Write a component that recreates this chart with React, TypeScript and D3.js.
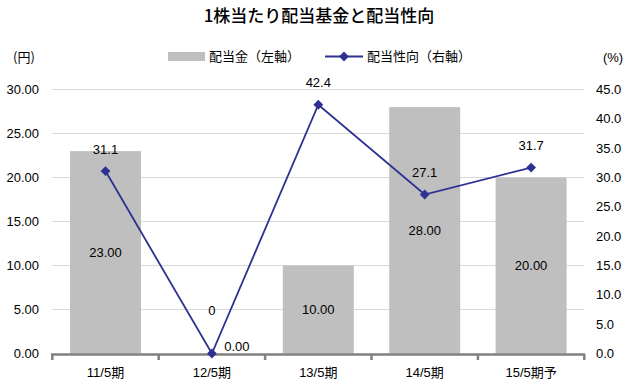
import React from "react";
import * as d3 from "d3";

const categories = ["11/5期", "12/5期", "13/5期", "14/5期", "15/5期予"];
const dividends = [23.0, 0.0, 10.0, 28.0, 20.0];
const payoutRatio = [31.1, 0, 42.4, 27.1, 31.7];
const leftTicks = [0, 5, 10, 15, 20, 25, 30];
const rightTicks = [0, 5, 10, 15, 20, 25, 30, 35, 40, 45];
const title = "1株当たり配当基金と配当性向";
const legendBar = "配当金（左軸）";
const legendLine = "配当性向（右軸）";

const W = 631;
const H = 386;
const NUM_FONT = "'Liberation Sans', Arial, 'Noto Sans CJK JP', sans-serif";
const CJK_FONT = "'Noto Sans CJK JP', sans-serif";
const LINE_COLOR = "#2E3192";
const BAR_COLOR = "#BFBFBF";

export default function App() {
  const x = d3.scaleBand<string>().domain(categories).range([52.3, 584.3]).padding(0);
  const yL = d3.scaleLinear().domain([0, 30]).range([353.5, 89.5]);
  const yR = d3.scaleLinear().domain([0, 45]).range([353.5, 89.5]);
  const bw = x.bandwidth() * 0.667;
  const cx = (c: string) => (x(c) as number) + x.bandwidth() / 2;

  const line = d3
    .line<number>()
    .x((_, i) => cx(categories[i]))
    .y((d) => yR(d));

  const diamond = d3.symbol().type(d3.symbolSquare).size(48)() as string;
  const boundaries = [...categories.map((c) => x(c) as number), x.range()[1]];

  return (
    <svg
      width={W}
      height={H}
      style={{ position: "absolute", left: 0, top: 0, background: "#fff" }}
    >
      <rect x={0} y={0} width={W} height={H} fill="#fff" />
      <text x={319} y={22} textAnchor="middle" fontFamily={CJK_FONT} fontSize={17} fontWeight={500} fill="#000">
        {title}
      </text>

      {/* axis unit labels */}
      <text x={24} y={62} textAnchor="middle" fontFamily={CJK_FONT} fontSize={13} fill="#000">
        (円)
      </text>
      <text x={613} y={62} textAnchor="middle" fontFamily={NUM_FONT} fontSize={13} fill="#000">
        (%)
      </text>

      {/* legend */}
      <rect x={168} y={52} width={37} height={9} fill={BAR_COLOR} />
      <text x={209} y={61} fontFamily={CJK_FONT} fontSize={13} fill="#000">
        {legendBar}
      </text>
      <line x1={325} x2={363} y1={56.5} y2={56.5} stroke={LINE_COLOR} strokeWidth={2} />
      <path d={diamond} transform={`translate(344,56.5) rotate(45)`} fill={LINE_COLOR} />
      <text x={367} y={61} fontFamily={CJK_FONT} fontSize={13} fill="#000">
        {legendLine}
      </text>

      {/* gridlines */}
      {leftTicks.slice(1).map((t) => (
        <line key={t} x1={52} x2={584} y1={yL(t)} y2={yL(t)} stroke="#D9D9D9" strokeWidth={1} />
      ))}

      {/* left tick labels */}
      {leftTicks.map((t) => (
        <text key={t} x={39} y={yL(t) + 4.5} textAnchor="end" fontFamily={NUM_FONT} fontSize={13} fill="#000">
          {t.toFixed(2)}
        </text>
      ))}
      {/* right tick labels */}
      {rightTicks.map((t) => (
        <text key={t} x={596} y={yR(t) + 4.5} textAnchor="start" fontFamily={NUM_FONT} fontSize={13} fill="#000">
          {t.toFixed(1)}
        </text>
      ))}

      {/* bars */}
      {dividends.map((v, i) => (
        <rect
          key={i}
          x={cx(categories[i]) - bw / 2}
          y={yL(v)}
          width={bw}
          height={yL(0) - yL(v)}
          fill={BAR_COLOR}
        />
      ))}

      {/* x axis */}
      <line x1={51} x2={585} y1={354.5} y2={354.5} stroke="#808080" strokeWidth={2.5} />
      {boundaries.map((b, i) => (
        <line key={i} x1={b} x2={b} y1={354} y2={360} stroke="#808080" strokeWidth={2.5} />
      ))}
      {categories.map((c) => (
        <text key={c} x={cx(c)} y={377} textAnchor="middle" fontFamily={NUM_FONT} fontSize={13} fill="#000">
          {c}
        </text>
      ))}

      {/* bar labels */}
      {dividends.map((v, i) => {
        const zero = v === 0;
        const lx = cx(categories[i]) + (zero ? 25 : 0);
        const ly = zero ? yL(0) - 7 : (yL(v) + yL(0)) / 2;
        return (
          <text key={i} x={lx} y={ly + 4.5} textAnchor="middle" fontFamily={NUM_FONT} fontSize={13} fill="#000">
            {v.toFixed(2)}
          </text>
        );
      })}

      {/* line */}
      <path d={line(payoutRatio) as string} fill="none" stroke={LINE_COLOR} strokeWidth={1.8} />
      {payoutRatio.map((v, i) => (
        <path
          key={i}
          d={diamond}
          transform={`translate(${cx(categories[i])},${yR(v)}) rotate(45)`}
          fill={LINE_COLOR}
        />
      ))}
      {payoutRatio.map((v, i) => {
        const dy = v === 0 ? -43 : -22;
        return (
          <text
            key={i}
            x={cx(categories[i])}
            y={yR(v) + dy + 4.5}
            textAnchor="middle"
            fontFamily={NUM_FONT}
            fontSize={13}
            fill="#000"
          >
            {v === 0 ? "0" : v.toFixed(1)}
          </text>
        );
      })}
    </svg>
  );
}
